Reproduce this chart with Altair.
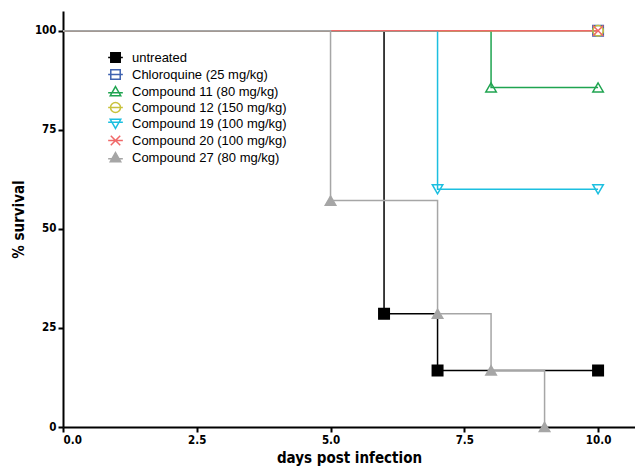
import altair as alt
import pandas as pd

series = [
    "untreated",
    "Chloroquine (25 mg/kg)",
    "Compound 11 (80 mg/kg)",
    "Compound 12 (150 mg/kg)",
    "Compound 19 (100 mg/kg)",
    "Compound 20 (100 mg/kg)",
    "Compound 27 (80 mg/kg)",
]
days = [
    [0, 6, 7, 10],
    [0, 10],
    [0, 8, 10],
    [0, 10],
    [0, 7, 10],
    [0, 10],
    [0, 5, 7, 8, 9],
]
survival = [
    [100, 28.57, 14.29, 14.29],
    [100, 100],
    [100, 85.71, 85.71],
    [100, 100],
    [100, 60, 60],
    [100, 100],
    [100, 57.14, 28.57, 14.29, 0],
]
colors = ["#000000", "#3f62b0", "#1fa450", "#c9c23c", "#1cbfe0", "#f06868", "#a6a6a6"]
fills = ["#000000", "transparent", "transparent", "transparent", "transparent", "transparent", "#a6a6a6"]
shapes = ["square", "square", "triangle-up", "circle", "triangle-down",
          "M-1,-1L1,1M-1,1L1,-1", "triangle-up"]
# legend symbols: same shapes with a short line through them
legend_shapes = [
    "M-1.4,0H1.4M-0.9,-0.9H0.9V0.9H-0.9Z",
    "M-1.4,0H1.4M-0.9,-0.9H0.9V0.9H-0.9Z",
    "M-1.4,0.25H1.4M0,-0.95L1,0.8H-1Z",
    "M-1.4,0H1.4M0.95,0A0.95,0.95,0,1,1,-0.95,0A0.95,0.95,0,1,1,0.95,0Z",
    "M-1.4,-0.25H1.4M0,0.95L1,-0.8H-1Z",
    "M-1.4,0H1.4M-0.9,-0.9L0.9,0.9M-0.9,0.9L0.9,-0.9",
    "M-1.4,0.25H1.4M0,-0.95L1,0.8H-1Z",
]

rows = []
for i, name in enumerate(series):
    for t, s in zip(days[i], survival[i]):
        rows.append({"series": name, "order": i, "day": t, "surv": s, "mark": t > 0})
df = pd.DataFrame(rows)

FONT = "Liberation Sans Narrow, DejaVu Sans Condensed, Liberation Sans"

xs = alt.X("day:Q", scale=alt.Scale(domain=[0, 10.69], nice=False),
           axis=alt.Axis(values=[0, 2.5, 5, 7.5, 10], format=".1f",
                         title="days post infection", titlePadding=5))
ys = alt.Y("surv:Q", scale=alt.Scale(domain=[0, 105], nice=False),
           axis=alt.Axis(values=[0, 25, 50, 75, 100], title="% survival",
                         titlePadding=8, labelPadding=2))

legend = alt.Legend(orient="none", legendX=46, legendY=40, title=None,
                    labelFont="Liberation Sans", labelFontSize=13,
                    labelColor="black", symbolSize=110, symbolStrokeWidth=1.5,
                    rowPadding=0, labelOffset=10, padding=0)


def enc(show):
    lg = legend if show else None
    rng = legend_shapes if show else shapes
    return dict(
        stroke=alt.Stroke("series:N", scale=alt.Scale(domain=series, range=colors), legend=lg),
        fill=alt.Fill("series:N", scale=alt.Scale(domain=series, range=fills), legend=lg),
        shape=alt.Shape("series:N", scale=alt.Scale(domain=series, range=rng), legend=lg),
    )


e = enc(False)
lines = alt.Chart(df).mark_line(interpolate="step-after", strokeWidth=1.5).encode(
    x=xs, y=ys, stroke=e["stroke"], order="day:Q"
)
points = alt.Chart(df).transform_filter("datum.mark").mark_point(
    size=110, strokeWidth=1.5, opacity=1, filled=True
).encode(x=xs, y=ys, **e)

legend_layer = alt.Chart(df).transform_filter("datum.day < 0").mark_point(
    size=110, strokeWidth=1.5, opacity=1, filled=True
).encode(x=xs, y=ys, **enc(True))

chart = alt.layer(lines, points, legend_layer).resolve_scale(
    stroke="independent", fill="independent", shape="independent"
).properties(
    width=572, height=416,
    autosize=alt.AutoSizeParams(type="none"),
    padding={"left": 55, "top": 3, "right": 0, "bottom": 40},
).configure_view(stroke=None).configure_axis(
    grid=False, domainColor="black", domainWidth=2, tickColor="black",
    tickWidth=2, tickSize=5,
    labelFont=FONT, labelFontWeight="bold",
    labelFontSize=11.5, labelColor="black",
    titleFont=FONT, titleFontWeight="bold",
    titleFontSize=15, titleColor="black",
)

chart.save("out.html", embed_options={"renderer": "svg", "actions": False})
